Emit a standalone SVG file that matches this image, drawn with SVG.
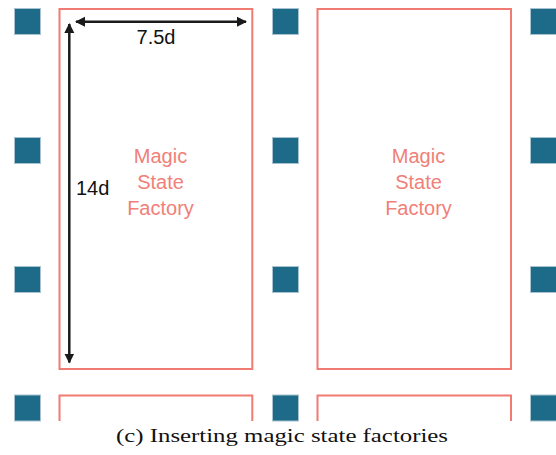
<svg xmlns="http://www.w3.org/2000/svg" width="556" height="455" viewBox="0 0 556 455">
<style>
.q{fill:#1d6a89;stroke:#a7c3d0;stroke-width:1}
.f{fill:none;stroke:#f07b72;stroke-width:2}
.t{font-family:"Liberation Sans",Arial,sans-serif;font-size:20px;fill:#f08078;text-anchor:middle}
.d{font-family:"Liberation Sans",Arial,sans-serif;font-size:20px;fill:#111}
.a{stroke:#1a1a1a;stroke-width:2.5;fill:none}
.cap{font-family:"Liberation Serif","Times New Roman",serif;font-size:19px;fill:#111;text-anchor:middle}
</style>
<defs>
<marker id="ah" viewBox="0 0 10 10" refX="9" refY="5" markerWidth="4" markerHeight="4.4" orient="auto-start-reverse" markerUnits="strokeWidth">
<path d="M0,0 L10,5 L0,10 z" fill="#1a1a1a"/>
</marker>
</defs>
<rect width="556" height="455" fill="#fff"/>
<g id="patches">
<rect class="q" x="14.5" y="8.5" width="26" height="26"/>
<rect class="q" x="272.5" y="8.5" width="26" height="26"/>
<rect class="q" x="530.5" y="8.5" width="26" height="26"/>
<rect class="q" x="14.5" y="137.5" width="26" height="26"/>
<rect class="q" x="272.5" y="137.5" width="26" height="26"/>
<rect class="q" x="530.5" y="137.5" width="26" height="26"/>
<rect class="q" x="14.5" y="266.5" width="26" height="26"/>
<rect class="q" x="272.5" y="266.5" width="26" height="26"/>
<rect class="q" x="530.5" y="266.5" width="26" height="26"/>
<rect class="q" x="14.5" y="395" width="26" height="26"/>
<rect class="q" x="272.5" y="395" width="26" height="26"/>
<rect class="q" x="530.5" y="395" width="26" height="26"/>
</g>
<g id="factory1">
<rect class="f" x="59.5" y="9" width="192.8" height="360"/>
<text class="t" x="160.5" y="163">Magic</text>
<text class="t" x="160.5" y="189">State</text>
<text class="t" x="160.5" y="215">Factory</text>
</g>
<g id="factory2">
<rect class="f" x="317.5" y="9" width="193.5" height="360"/>
<text class="t" x="418.5" y="163">Magic</text>
<text class="t" x="418.5" y="189">State</text>
<text class="t" x="418.5" y="215">Factory</text>
</g>
<g id="factory3">
<path class="f" d="M59.5,421 V395.5 H252.3 V421"/>
</g>
<g id="factory4">
<path class="f" d="M317.5,421 V395.5 H511 V421"/>
</g>
<g id="connectors">
<line class="a" x1="76" y1="21.7" x2="246" y2="21.7" marker-start="url(#ah)" marker-end="url(#ah)"/>
<line class="a" x1="69.3" y1="24" x2="69.3" y2="362.5" marker-start="url(#ah)" marker-end="url(#ah)"/>
</g>
<text class="d" x="156" y="44" text-anchor="middle">7.5d</text>
<text class="d" x="76" y="195">14d</text>
<text class="cap" x="282" y="441.5" textLength="332" lengthAdjust="spacingAndGlyphs">(c) Inserting magic state factories</text>
</svg>
